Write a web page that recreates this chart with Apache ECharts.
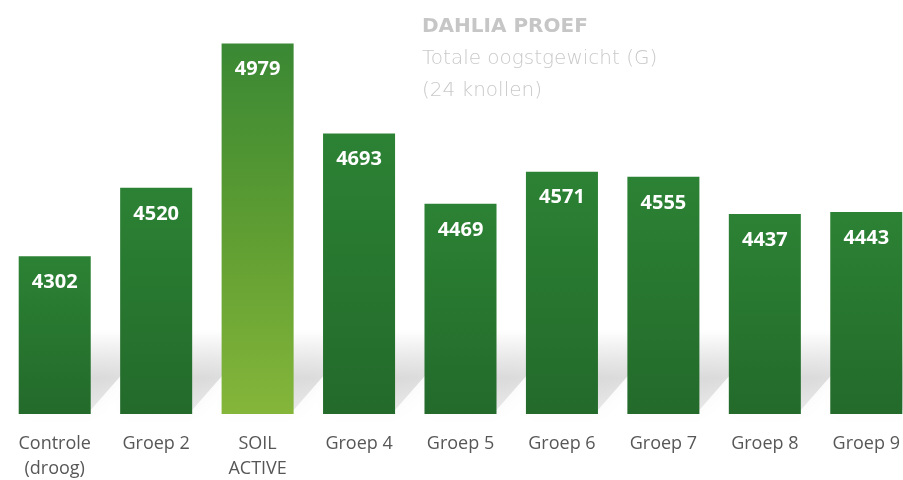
<!DOCTYPE html>
<html>
<head>
<meta charset="utf-8">
<script src="https://cdn.jsdelivr.net/npm/echarts@6/dist/echarts.min.js"></script>
<style>
    html, body { margin: 0; padding: 0; background: #fff; }
    #chart { width: 903px; height: 480px; }
</style>
</head>
<body>
<div id="chart"></div>
<script>
// categorieen en waarden (gram, 24 knollen)
var categories = ['Controle\n(droog)', 'Groep 2', 'SOIL\nACTIVE', 'Groep 4', 'Groep 5', 'Groep 6', 'Groep 7', 'Groep 8', 'Groep 9'];
var weights = [4302, 4520, 4979, 4693, 4469, 4571, 4555, 4437, 4443];
var highlightIndex = 2;

var chart = echarts.init(document.getElementById('chart'));

var greenBar = new echarts.graphic.LinearGradient(0, 0, 0, 1, [
    { offset: 0, color: '#2c8234' },
    { offset: 1, color: '#236a2b' }
]);
var limeBar = new echarts.graphic.LinearGradient(0, 0, 0, 1, [
    { offset: 0, color: '#3a8834' },
    { offset: 0.5, color: '#5e9d32' },
    { offset: 1, color: '#85b63a' }
]);

var barData = weights.map(function (v, i) {
    return {
        value: v,
        itemStyle: { color: i === highlightIndex ? limeBar : greenBar }
    };
});

var option = {
    animation: false,
    backgroundColor: '#ffffff',
    title: {
        text: 'DAHLIA PROEF',
        subtext: 'Totale oogstgewicht (G)\n(24 knollen)',
        left: 417,
        top: 12,
        itemGap: 6,
        textStyle: {
            fontFamily: 'DejaVu Sans',
            fontWeight: 'bold',
            fontSize: 20,
            color: '#c6c6c6'
        },
        subtextStyle: {
            fontFamily: 'DejaVu Sans',
            fontWeight: 200,
            fontSize: 20,
            lineHeight: 32,
            color: '#c9c9c9'
        }
    },
    grid: {
        left: 4,
        width: 913,
        top: 37,
        bottom: 66,
        outerBoundsMode: 'none',
        containLabel: false
    },
    xAxis: {
        type: 'category',
        data: categories,
        axisLine: { show: false },
        axisTick: { show: false },
        axisLabel: {
            interval: 0,
            margin: 17,
            fontFamily: 'Open Sans',
            fontSize: 18,
            lineHeight: 25,
            color: '#575757'
        }
    },
    yAxis: {
        type: 'value',
        min: 3800,
        max: 5000,
        show: false,
        splitLine: { show: false }
    },
    series: [
        {
            // zachte schaduw achter de balken
            type: 'custom',
            z: 1,
            silent: true,
            renderItem: function (params, api) {
                var base = api.coord([api.value(0), 3800]);
                var w = api.size([1, 0])[0] * 0.71;
                var x0 = base[0] - w / 2;
                var x1 = base[0] + w / 2;
                var yb = base[1] - 4;
                var dx = 70, dy = 80;
                return {
                    type: 'polygon',
                    shape: {
                        points: [[x0, yb], [x1, yb], [x1 + dx, yb - dy], [x0 + dx, yb - dy]]
                    },
                    style: {
                        fill: new echarts.graphic.LinearGradient(0, 1, 0, 0, [
                            { offset: 0, color: 'rgba(160,160,160,0.22)' },
                            { offset: 0.4, color: 'rgba(160,160,160,0.32)' },
                            { offset: 1, color: 'rgba(160,160,160,0)' }
                        ]),
                        shadowBlur: 18,
                        shadowColor: 'rgba(160,160,160,0.3)'
                    }
                };
            },
            data: weights.map(function (v, i) { return [i, v]; })
        },
        {
            type: 'bar',
            z: 2,
            barWidth: '71%',
            data: barData,
            label: {
                show: true,
                position: 'insideTop',
                distance: 16,
                fontFamily: 'Open Sans',
                fontWeight: 'bold',
                fontSize: 20,
                color: '#ffffff'
            }
        }
    ]
};

chart.setOption(option);
</script>
</body>
</html>
